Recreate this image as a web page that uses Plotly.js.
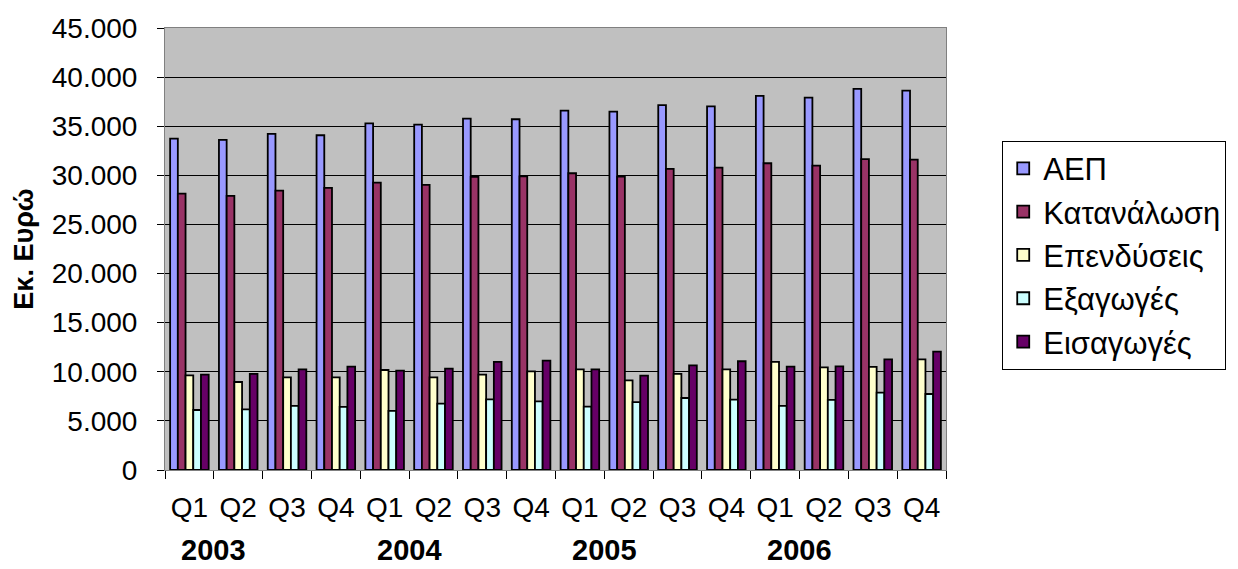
<!DOCTYPE html>
<html>
<head>
<meta charset="utf-8">
<script src="https://cdn.plot.ly/plotly-3.0.1.min.js"></script>
<style>html,body{margin:0;padding:0;background:#fff;overflow:hidden;}#chart{width:1238px;height:569px;}</style>
</head>
<body>
<div id="chart"></div>
<script>
var quarters = ['Q1','Q2','Q3','Q4','Q1','Q2','Q3','Q4','Q1','Q2','Q3','Q4','Q1','Q2','Q3','Q4'];
var years = ['2003','2004','2005','2006'];
var seriesNames = ['ΑΕΠ','Κατανάλωση','Επενδύσεις','Εξαγωγές','Εισαγωγές'];
var aep = [33740,33600,34220,34080,35300,35170,35780,35710,36590,36490,37140,37030,38090,37920,38800,38630];
var katanalosi = [28140,27900,28450,28720,29260,29020,29840,29900,30210,29870,30650,30790,31230,30990,31640,31600];
var ependyseis = [9640,8960,9440,9440,10180,9440,9710,10050,10250,9130,9780,10250,11000,10450,10490,11270];
var exagoges = [6110,6180,6520,6420,6010,6750,7200,6990,6450,6920,7330,7160,6520,7130,7880,7740];
var eisagoges = [9710,9780,10250,10520,10120,10320,11000,11130,10250,9600,10660,11070,10520,10560,11270,12050];
var colors = ['#9999FF','#993366','#FFFFCC','#CCFFFF','#660066'];

var cats = quarters.map(function(q,i){ return years[Math.floor(i/4)] + ' ' + q; });
var values = [aep, katanalosi, ependyseis, exagoges, eisagoges];

var data = values.map(function(v,k){
  return {
    type:'bar', x:cats, y:v, name:seriesNames[k],
    marker:{color:colors[k], line:{color:'#000', width:1.8}},
    hoverinfo:'y+name'
  };
});

var annotations = years.map(function(y,i){
  return {x:4*i+0.5, xref:'x', y:-0.181, yref:'paper', text:'<b>'+y+'</b>', showarrow:false,
    xanchor:'center', yanchor:'middle', font:{family:'Liberation Sans, Arial', size:29, color:'#000'}};
});

var layout = {
  width:1238, height:569,
  margin:{l:165, r:292, t:28, b:99, autoexpand:false},
  paper_bgcolor:'#fff', plot_bgcolor:'#C0C0C0',
  separators:',.',
  barmode:'group', bargap:0.21, bargroupgap:0,
  font:{family:'Liberation Sans, Arial', size:28, color:'#000'},
  showlegend:true,
  legend:{x:1.072, xanchor:'left', y:0.486, yanchor:'middle', bgcolor:'#fff', bordercolor:'#000', borderwidth:1,
    font:{size:31, color:'#000'}, tracegroupgap:0, traceorder:'normal', itemwidth:30},
  xaxis:{type:'category', tickmode:'array', tickvals:cats, ticktext:quarters, tickson:'boundaries',
    ticks:'outside', ticklen:8, tickcolor:'#000', showgrid:false, showline:true, linecolor:'#808080', mirror:true,
    ticklabelstandoff:12, tickfont:{size:28}},
  yaxis:{range:[0,45000], dtick:5000, tickformat:',d', ticks:'outside', ticklen:7, tickcolor:'#000',
    showgrid:true, gridcolor:'#000', gridwidth:1, showline:true, linecolor:'#808080', mirror:true, zeroline:false,
    ticklabelstandoff:14, tickfont:{size:28},
    title:{text:'<b>Εκ. Ευρώ</b>', font:{size:27}, standoff:10}},
  annotations:annotations
};

Plotly.newPlot('chart', data, layout, {displayModeBar:false, staticPlot:true});
</script>
</body>
</html>
